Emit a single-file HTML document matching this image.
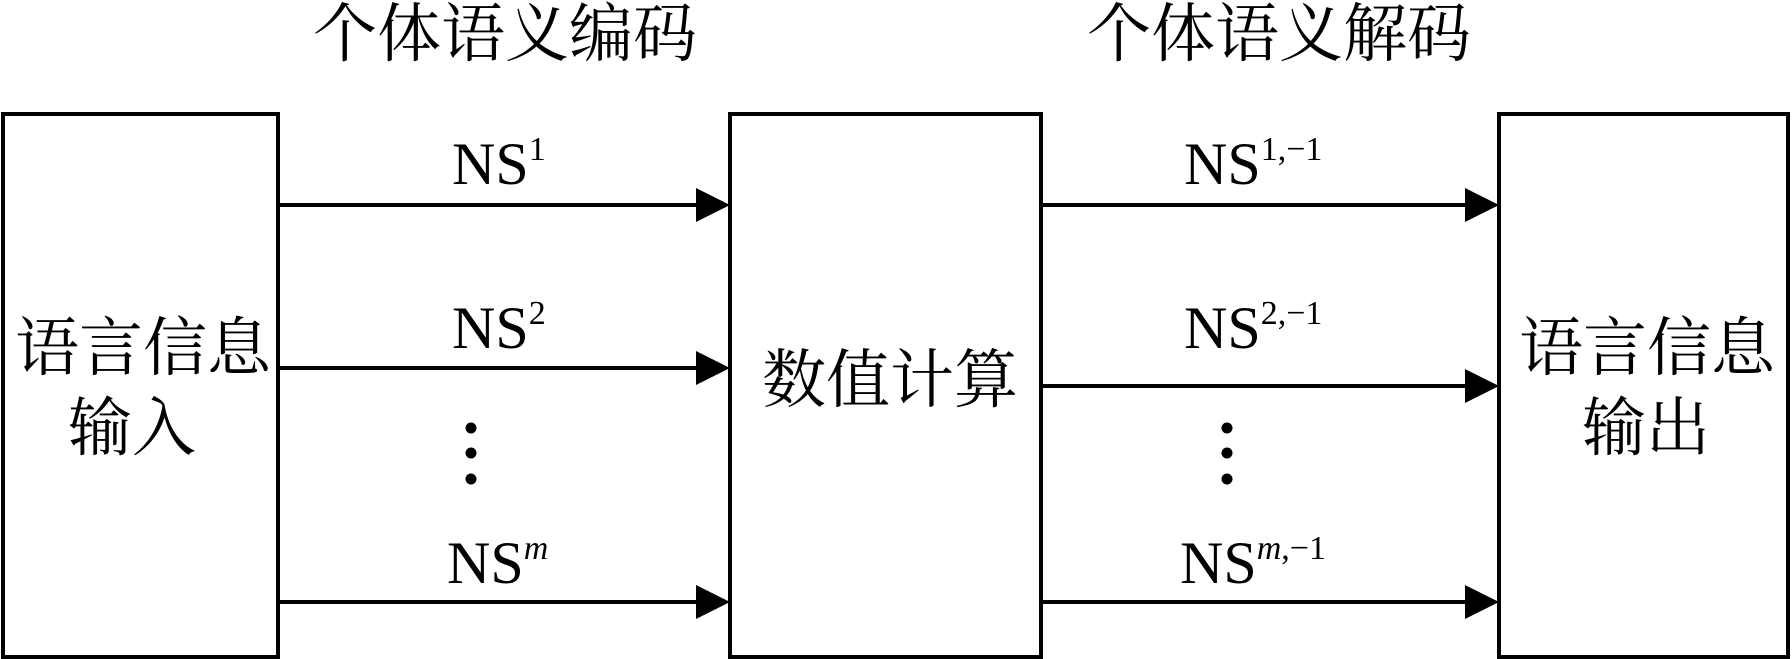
<!DOCTYPE html>
<html><head><meta charset="utf-8"><style>
html,body{margin:0;padding:0;background:#fff;}
svg{display:block;}
.cj{font-family:"Liberation Serif","Noto Serif CJK SC",serif;font-size:64px;fill:#000;}
.ns{font-family:"Liberation Serif",serif;font-size:60px;fill:#000;}
.sup{font-size:34px;}
</style></head><body>
<svg width="1792" height="659" viewBox="0 0 1792 659" xmlns="http://www.w3.org/2000/svg">
<g fill="none" stroke="#000" stroke-width="4">
<rect x="3" y="114" width="275" height="543"/>
<rect x="730" y="114" width="311" height="543"/>
<rect x="1499" y="114" width="289" height="543"/>
<line x1="278" y1="205" x2="700" y2="205"/>
<line x1="278" y1="368" x2="700" y2="368"/>
<line x1="278" y1="602" x2="700" y2="602"/>
<line x1="1041" y1="205" x2="1466" y2="205"/>
<line x1="1041" y1="386" x2="1466" y2="386"/>
<line x1="1041" y1="602" x2="1466" y2="602"/>
</g>
<g fill="#000">
<polygon points="696,188 730,205 696,222"/>
<polygon points="696,351 730,368 696,385"/>
<polygon points="696,585 730,602 696,619"/>
<polygon points="1465,188 1499,205 1465,222"/>
<polygon points="1465,369 1499,386 1465,403"/>
<polygon points="1465,585 1499,602 1465,619"/>
<circle cx="471" cy="428" r="5.5"/><circle cx="471" cy="453" r="5.5"/><circle cx="471" cy="479" r="5.5"/>
<circle cx="1227" cy="428" r="5.5"/><circle cx="1227" cy="453" r="5.5"/><circle cx="1227" cy="479" r="5.5"/>
</g>
<text class="cj" x="505" y="56" text-anchor="middle" font-size="66">个体语义编码</text>
<text class="cj" x="1279" y="56" text-anchor="middle" font-size="66">个体语义解码</text>
<text class="cj" x="143" y="370" text-anchor="middle">语言信息</text>
<text class="cj" x="132" y="450" text-anchor="middle">输入</text>
<text class="cj" x="890" y="402" text-anchor="middle">数值计算</text>
<text class="cj" x="1647" y="370" text-anchor="middle">语言信息</text>
<text class="cj" x="1646" y="450" text-anchor="middle">输出</text>
<text class="ns" x="452" y="184">NS<tspan class="sup" dy="-24">1</tspan></text>
<text class="ns" x="452" y="348">NS<tspan class="sup" dy="-24">2</tspan></text>
<text class="ns" x="447" y="583">NS<tspan class="sup" dy="-24" font-style="italic">m</tspan></text>
<text class="ns" x="1184" y="184">NS<tspan class="sup" dy="-24">1,−1</tspan></text>
<text class="ns" x="1184" y="348">NS<tspan class="sup" dy="-24">2,−1</tspan></text>
<text class="ns" x="1180" y="583">NS<tspan class="sup" dy="-24"><tspan font-style="italic">m</tspan>,−1</tspan></text>
</svg>
</body></html>
